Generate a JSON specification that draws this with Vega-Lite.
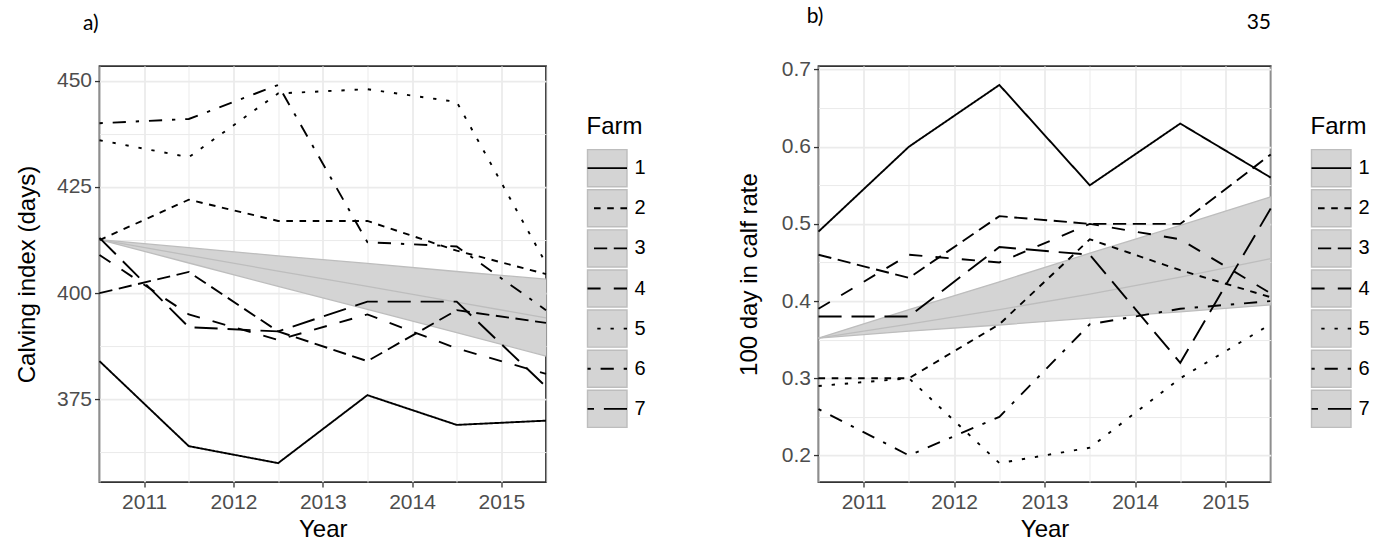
{
  "$schema": "https://vega.github.io/schema/vega-lite/v6.json",
  "padding": {"left": 14.5, "top": 4, "right": 0, "bottom": 0},
  "autosize": {"type": "pad"},
  "title": {"text": "35", "anchor": "end", "frame": "bounds", "dx": -105, "offset": -28, "font": "Lato", "fontSize": 21, "fontWeight": "normal", "color": "black"},
  "datasets": {
    "a_lines": [
      {"year": 2010.5, "farm": "1", "value": 384}, {"year": 2011.5, "farm": "1", "value": 364}, {"year": 2012.5, "farm": "1", "value": 360}, {"year": 2013.5, "farm": "1", "value": 376}, {"year": 2014.5, "farm": "1", "value": 369}, {"year": 2015.5, "farm": "1", "value": 370},
      {"year": 2010.5, "farm": "2", "value": 412.5}, {"year": 2011.5, "farm": "2", "value": 422}, {"year": 2012.5, "farm": "2", "value": 417}, {"year": 2013.5, "farm": "2", "value": 417}, {"year": 2014.5, "farm": "2", "value": 410}, {"year": 2015.5, "farm": "2", "value": 404.5},
      {"year": 2010.5, "farm": "3", "value": 400}, {"year": 2011.5, "farm": "3", "value": 405}, {"year": 2012.5, "farm": "3", "value": 391}, {"year": 2013.5, "farm": "3", "value": 384}, {"year": 2014.5, "farm": "3", "value": 396}, {"year": 2015.5, "farm": "3", "value": 393},
      {"year": 2010.5, "farm": "4", "value": 409}, {"year": 2011.5, "farm": "4", "value": 395}, {"year": 2012.5, "farm": "4", "value": 389}, {"year": 2013.5, "farm": "4", "value": 395}, {"year": 2014.5, "farm": "4", "value": 387}, {"year": 2015.5, "farm": "4", "value": 381},
      {"year": 2010.5, "farm": "5", "value": 436}, {"year": 2011.5, "farm": "5", "value": 432}, {"year": 2012.5, "farm": "5", "value": 447}, {"year": 2013.5, "farm": "5", "value": 448}, {"year": 2014.5, "farm": "5", "value": 445}, {"year": 2015.5, "farm": "5", "value": 407},
      {"year": 2010.5, "farm": "6", "value": 440}, {"year": 2011.5, "farm": "6", "value": 441}, {"year": 2012.5, "farm": "6", "value": 449}, {"year": 2013.5, "farm": "6", "value": 412}, {"year": 2014.5, "farm": "6", "value": 411}, {"year": 2015.5, "farm": "6", "value": 396},
      {"year": 2010.5, "farm": "7", "value": 413}, {"year": 2011.5, "farm": "7", "value": 392}, {"year": 2012.5, "farm": "7", "value": 391}, {"year": 2013.5, "farm": "7", "value": 398}, {"year": 2014.5, "farm": "7", "value": 398}, {"year": 2015.5, "farm": "7", "value": 378}
    ],
    "a_band": [
      {"year": 2010.5, "lo": 412.6, "mid": 412.6, "hi": 412.6},
      {"year": 2011.5, "lo": 407.1, "mid": 408.9, "hi": 410.7},
      {"year": 2012.5, "lo": 401.6, "mid": 405.2, "hi": 408.8},
      {"year": 2013.5, "lo": 396.2, "mid": 401.6, "hi": 407.0},
      {"year": 2014.5, "lo": 390.7, "mid": 397.9, "hi": 405.1},
      {"year": 2015.5, "lo": 385.2, "mid": 394.2, "hi": 403.3}
    ],
    "b_lines": [
      {"year": 2010.5, "farm": "1", "value": 0.49}, {"year": 2011.5, "farm": "1", "value": 0.60}, {"year": 2012.5, "farm": "1", "value": 0.68}, {"year": 2013.5, "farm": "1", "value": 0.55}, {"year": 2014.5, "farm": "1", "value": 0.63}, {"year": 2015.5, "farm": "1", "value": 0.56},
      {"year": 2010.5, "farm": "2", "value": 0.30}, {"year": 2011.5, "farm": "2", "value": 0.30}, {"year": 2012.5, "farm": "2", "value": 0.37}, {"year": 2013.5, "farm": "2", "value": 0.48}, {"year": 2014.5, "farm": "2", "value": 0.44}, {"year": 2015.5, "farm": "2", "value": 0.405},
      {"year": 2010.5, "farm": "3", "value": 0.46}, {"year": 2011.5, "farm": "3", "value": 0.43}, {"year": 2012.5, "farm": "3", "value": 0.51}, {"year": 2013.5, "farm": "3", "value": 0.50}, {"year": 2014.5, "farm": "3", "value": 0.50}, {"year": 2015.5, "farm": "3", "value": 0.59},
      {"year": 2010.5, "farm": "4", "value": 0.39}, {"year": 2011.5, "farm": "4", "value": 0.46}, {"year": 2012.5, "farm": "4", "value": 0.45}, {"year": 2013.5, "farm": "4", "value": 0.50}, {"year": 2014.5, "farm": "4", "value": 0.48}, {"year": 2015.5, "farm": "4", "value": 0.41},
      {"year": 2010.5, "farm": "5", "value": 0.29}, {"year": 2011.5, "farm": "5", "value": 0.30}, {"year": 2012.5, "farm": "5", "value": 0.19}, {"year": 2013.5, "farm": "5", "value": 0.21}, {"year": 2014.5, "farm": "5", "value": 0.30}, {"year": 2015.5, "farm": "5", "value": 0.37},
      {"year": 2010.5, "farm": "6", "value": 0.26}, {"year": 2011.5, "farm": "6", "value": 0.20}, {"year": 2012.5, "farm": "6", "value": 0.25}, {"year": 2013.5, "farm": "6", "value": 0.37}, {"year": 2014.5, "farm": "6", "value": 0.39}, {"year": 2015.5, "farm": "6", "value": 0.40},
      {"year": 2010.5, "farm": "7", "value": 0.38}, {"year": 2011.5, "farm": "7", "value": 0.38}, {"year": 2012.5, "farm": "7", "value": 0.47}, {"year": 2013.5, "farm": "7", "value": 0.46}, {"year": 2014.5, "farm": "7", "value": 0.32}, {"year": 2015.5, "farm": "7", "value": 0.52}
    ],
    "b_band": [
      {"year": 2010.5, "lo": 0.352, "mid": 0.352, "hi": 0.352},
      {"year": 2011.5, "lo": 0.361, "mid": 0.370, "hi": 0.389},
      {"year": 2012.5, "lo": 0.369, "mid": 0.389, "hi": 0.425},
      {"year": 2013.5, "lo": 0.378, "mid": 0.409, "hi": 0.462},
      {"year": 2014.5, "lo": 0.386, "mid": 0.431, "hi": 0.498},
      {"year": 2015.5, "lo": 0.395, "mid": 0.455, "hi": 0.535}
    ],
    "farms": [{"farm": "1"}, {"farm": "2"}, {"farm": "3"}, {"farm": "4"}, {"farm": "5"}, {"farm": "6"}, {"farm": "7"}]
  },
  "hconcat": [
    {
      "width": 446.5,
      "height": 416,
      "title": {"text": "a)", "anchor": "start", "frame": "group", "dx": -16.5, "offset": 32, "font": "Lato", "fontSize": 21, "fontWeight": "normal", "color": "black"},
      "layer": [
        {"data": {"name": "a_band"}, "mark": {"type": "area", "fill": "#d4d4d4", "opacity": 1},
          "encoding": {
            "x": {"field": "year", "type": "quantitative", "title": "Year",
              "scale": {"domain": [2010.5, 2015.5], "nice": false, "zero": false},
              "axis": {"values": [2010.5, 2011, 2011.5, 2012, 2012.5, 2013, 2013.5, 2014, 2014.5, 2015, 2015.5], "labelExpr": "floor(datum.value) == datum.value ? '' + datum.value : ''", "labelOverlap": false, "labelFlush": false,
                "tickOpacity": {"condition": {"test": "floor(datum.value) == datum.value", "value": 1}, "value": 0},
                "gridWidth": {"condition": {"test": "floor(datum.value) == datum.value", "value": 1.8}, "value": 1}}},
            "y": {"field": "lo", "type": "quantitative", "title": "Calving index (days)", "scale": {"domain": [355.55, 453.45], "nice": false, "zero": false},
              "axis": {"values": [362.5, 375, 387.5, 400, 412.5, 425, 437.5, 450], "labelExpr": "datum.value % 25 == 0 ? datum.label : ''", "labelOverlap": false, "labelFlush": false, "minExtent": 48, "maxExtent": 48, "titlePadding": 12,
                "tickOpacity": {"condition": {"test": "datum.value % 25 == 0", "value": 1}, "value": 0},
                "gridWidth": {"condition": {"test": "datum.value % 25 == 0", "value": 1.8}, "value": 1}}},
            "y2": {"field": "hi"}}},
        {"data": {"name": "a_band"}, "mark": {"type": "line", "color": "#bdbdbd", "strokeWidth": 1.3},
          "encoding": {"x": {"field": "year", "type": "quantitative", "title": "Year", "scale": {"domain": [2010.5, 2015.5], "nice": false, "zero": false}},
            "y": {"field": "hi", "type": "quantitative", "title": "Calving index (days)", "scale": {"domain": [355.55, 453.45], "nice": false, "zero": false}}}},
        {"data": {"name": "a_band"}, "mark": {"type": "line", "color": "#bdbdbd", "strokeWidth": 1.3},
          "encoding": {"x": {"field": "year", "type": "quantitative", "title": "Year", "scale": {"domain": [2010.5, 2015.5], "nice": false, "zero": false}},
            "y": {"field": "lo", "type": "quantitative", "title": "Calving index (days)", "scale": {"domain": [355.55, 453.45], "nice": false, "zero": false}}}},
        {"data": {"name": "a_band"}, "mark": {"type": "line", "color": "#bdbdbd", "strokeWidth": 1.3},
          "encoding": {"x": {"field": "year", "type": "quantitative", "title": "Year", "scale": {"domain": [2010.5, 2015.5], "nice": false, "zero": false}},
            "y": {"field": "mid", "type": "quantitative", "title": "Calving index (days)", "scale": {"domain": [355.55, 453.45], "nice": false, "zero": false}}}},
        {"data": {"name": "a_lines"}, "mark": {"type": "line", "color": "black", "strokeWidth": 1.9},
          "encoding": {
            "x": {"field": "year", "type": "quantitative", "title": "Year", "scale": {"domain": [2010.5, 2015.5], "nice": false, "zero": false}},
            "y": {"field": "value", "type": "quantitative", "title": "Calving index (days)", "scale": {"domain": [355.55, 453.45], "nice": false, "zero": false}},
            "strokeDash": {"field": "farm", "type": "nominal", "legend": null, "scale": {"domain": ["1", "2", "3", "4", "5", "6", "7"], "range": [[1, 0], [6.6, 6.6], [13.2, 6.6], [13.2, 13.2], [3.3, 9.9], [3.3, 9.9, 13.2, 9.9], [23.1, 9.9]]}}}}
      ]
    },
    {
      "width": 39.5,
      "height": 312,
      "view": {"stroke": null, "fill": "#ffffff", "fillOpacity": 0},
      "data": {"name": "farms"},
      "title": {"text": "Farm", "anchor": "start", "font": "Liberation Sans", "fontSize": 24, "fontWeight": "normal", "baseline": "bottom", "offset": -15, "color": "black"},
      "encoding": {
        "y": {"field": "farm", "type": "nominal", "scale": {"paddingInner": 0.075, "paddingOuter": 0.04, "range": [0, 281]},
          "axis": {"orient": "right", "title": null, "domain": false, "ticks": false, "tickSize": 0, "grid": false, "labelPadding": 7, "labelColor": "black", "labelFontSize": 20, "minExtent": 74, "maxExtent": 74}}
      },
      "layer": [
        {"mark": {"type": "rect", "fill": "#d4d4d4", "stroke": "#bdbdbd", "strokeWidth": 1.4},
          "encoding": {"strokeDash": {"field": "farm", "type": "nominal", "legend": null, "scale": {"domain": ["1", "2", "3", "4", "5", "6", "7"], "range": [[1, 0], [6.6, 6.6], [13.2, 6.6], [13.2, 13.2], [3.3, 9.9], [3.3, 9.9, 13.2, 9.9], [23.1, 9.9]]}}}},
        {"mark": {"type": "rule", "color": "black", "strokeWidth": 1.9},
          "encoding": {"y": {"field": "farm", "type": "nominal", "bandPosition": 0.5},
            "strokeDash": {"field": "farm", "type": "nominal", "legend": null, "scale": {"domain": ["1", "2", "3", "4", "5", "6", "7"], "range": [[1, 0], [6.6, 6.6], [13.2, 6.6], [13.2, 13.2], [3.3, 9.9], [3.3, 9.9, 13.2, 9.9], [23.1, 9.9]]}}}}
      ]
    },
    {
      "width": 452.2,
      "height": 416,
      "title": {"text": "b)", "anchor": "start", "frame": "group", "dx": -11.8, "offset": 32, "font": "Lato", "fontSize": 21, "fontWeight": "normal", "color": "black"},
      "layer": [
        {"data": {"name": "b_band"}, "mark": {"type": "area", "fill": "#d4d4d4", "opacity": 1},
          "encoding": {
            "x": {"field": "year", "type": "quantitative", "title": "Year",
              "scale": {"domain": [2010.5, 2015.5], "nice": false, "zero": false},
              "axis": {"values": [2010.5, 2011, 2011.5, 2012, 2012.5, 2013, 2013.5, 2014, 2014.5, 2015, 2015.5], "labelExpr": "floor(datum.value) == datum.value ? '' + datum.value : ''", "labelOverlap": false, "labelFlush": false,
                "tickOpacity": {"condition": {"test": "floor(datum.value) == datum.value", "value": 1}, "value": 0},
                "gridWidth": {"condition": {"test": "floor(datum.value) == datum.value", "value": 1.8}, "value": 1}}},
            "y": {"field": "lo", "type": "quantitative", "title": "100 day in calf rate", "scale": {"domain": [0.1655, 0.7045], "nice": false, "zero": false},
              "axis": {"values": [0.2, 0.25, 0.3, 0.35, 0.4, 0.45, 0.5, 0.55, 0.6, 0.65, 0.7], "format": ".1f", "labelExpr": "round(datum.value * 100) % 10 == 0 ? datum.label : ''", "labelOverlap": false, "labelFlush": false, "minExtent": 42, "maxExtent": 42, "titlePadding": 15,
                "tickOpacity": {"condition": {"test": "round(datum.value * 100) % 10 == 0", "value": 1}, "value": 0},
                "gridWidth": {"condition": {"test": "round(datum.value * 100) % 10 == 0", "value": 1.8}, "value": 1}}},
            "y2": {"field": "hi"}}},
        {"data": {"name": "b_band"}, "mark": {"type": "line", "color": "#bdbdbd", "strokeWidth": 1.3},
          "encoding": {"x": {"field": "year", "type": "quantitative", "title": "Year", "scale": {"domain": [2010.5, 2015.5], "nice": false, "zero": false}},
            "y": {"field": "hi", "type": "quantitative", "title": "100 day in calf rate", "scale": {"domain": [0.1655, 0.7045], "nice": false, "zero": false}}}},
        {"data": {"name": "b_band"}, "mark": {"type": "line", "color": "#bdbdbd", "strokeWidth": 1.3},
          "encoding": {"x": {"field": "year", "type": "quantitative", "title": "Year", "scale": {"domain": [2010.5, 2015.5], "nice": false, "zero": false}},
            "y": {"field": "lo", "type": "quantitative", "title": "100 day in calf rate", "scale": {"domain": [0.1655, 0.7045], "nice": false, "zero": false}}}},
        {"data": {"name": "b_band"}, "mark": {"type": "line", "color": "#bdbdbd", "strokeWidth": 1.3},
          "encoding": {"x": {"field": "year", "type": "quantitative", "title": "Year", "scale": {"domain": [2010.5, 2015.5], "nice": false, "zero": false}},
            "y": {"field": "mid", "type": "quantitative", "title": "100 day in calf rate", "scale": {"domain": [0.1655, 0.7045], "nice": false, "zero": false}}}},
        {"data": {"name": "b_lines"}, "mark": {"type": "line", "color": "black", "strokeWidth": 1.9},
          "encoding": {
            "x": {"field": "year", "type": "quantitative", "title": "Year", "scale": {"domain": [2010.5, 2015.5], "nice": false, "zero": false}},
            "y": {"field": "value", "type": "quantitative", "title": "100 day in calf rate", "scale": {"domain": [0.1655, 0.7045], "nice": false, "zero": false}},
            "strokeDash": {"field": "farm", "type": "nominal", "legend": null, "scale": {"domain": ["1", "2", "3", "4", "5", "6", "7"], "range": [[1, 0], [6.6, 6.6], [13.2, 6.6], [13.2, 13.2], [3.3, 9.9], [3.3, 9.9, 13.2, 9.9], [23.1, 9.9]]}}}}
      ]
    },
    {
      "width": 39.5,
      "height": 312,
      "view": {"stroke": null, "fill": "#ffffff", "fillOpacity": 0},
      "data": {"name": "farms"},
      "title": {"text": "Farm", "anchor": "start", "font": "Liberation Sans", "fontSize": 24, "fontWeight": "normal", "baseline": "bottom", "offset": -15, "color": "black"},
      "encoding": {
        "y": {"field": "farm", "type": "nominal", "scale": {"paddingInner": 0.075, "paddingOuter": 0.04, "range": [0, 281]},
          "axis": {"orient": "right", "title": null, "domain": false, "ticks": false, "tickSize": 0, "grid": false, "labelPadding": 7, "labelColor": "black", "labelFontSize": 20, "minExtent": 25, "maxExtent": 25}}
      },
      "layer": [
        {"mark": {"type": "rect", "fill": "#d4d4d4", "stroke": "#bdbdbd", "strokeWidth": 1.4},
          "encoding": {"strokeDash": {"field": "farm", "type": "nominal", "legend": null, "scale": {"domain": ["1", "2", "3", "4", "5", "6", "7"], "range": [[1, 0], [6.6, 6.6], [13.2, 6.6], [13.2, 13.2], [3.3, 9.9], [3.3, 9.9, 13.2, 9.9], [23.1, 9.9]]}}}},
        {"mark": {"type": "rule", "color": "black", "strokeWidth": 1.9},
          "encoding": {"y": {"field": "farm", "type": "nominal", "bandPosition": 0.5},
            "strokeDash": {"field": "farm", "type": "nominal", "legend": null, "scale": {"domain": ["1", "2", "3", "4", "5", "6", "7"], "range": [[1, 0], [6.6, 6.6], [13.2, 6.6], [13.2, 13.2], [3.3, 9.9], [3.3, 9.9, 13.2, 9.9], [23.1, 9.9]]}}}}
      ]
    }
  ],
  "spacing": 35,
  "center": true,
  "config": {
    "font": "Liberation Sans",
    "view": {"stroke": "#333333", "strokeWidth": 1.8},
    "axis": {"domain": false, "grid": true, "gridColor": "#ebebeb", "tickColor": "#333333", "tickSize": 5, "tickWidth": 1.3, "labelColor": "#4d4d4d", "labelFontSize": 21, "labelFont": "Liberation Sans", "titleFont": "Liberation Sans", "titleFontSize": 24, "titleFontWeight": "normal", "titleColor": "black", "labelPadding": 3},
    "axisX": {"labelPadding": 4.5, "titlePadding": 4.5}
  }
}
